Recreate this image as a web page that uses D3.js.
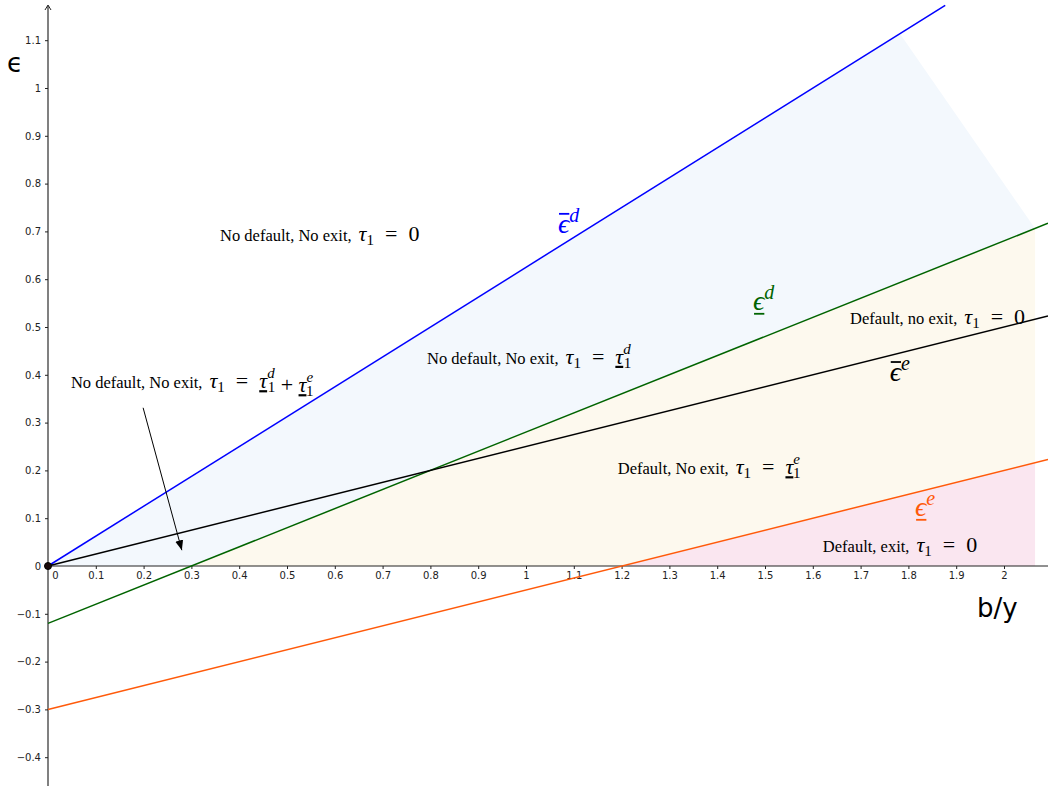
<!DOCTYPE html>
<html lang="en">
<head>
    <meta charset="UTF-8">
    <title>Default / exit regions</title>
    <style>
        body { margin: 0; background: #fff; }
        .tick text { font-family: "DejaVu Sans", sans-serif; font-size: 10px; fill: #222; }
    </style>
</head>
<body>
    <div id="chart"></div>

    <script src="https://d3js.org/d3.v7.min.js"></script>
    <script>
        var W = 1048, H = 786;

        // Tick values.
        var xTicks = [0, 0.1, 0.2, 0.3, 0.4, 0.5, 0.6, 0.7, 0.8, 0.9, 1, 1.1, 1.2, 1.3, 1.4, 1.5, 1.6, 1.7, 1.8, 1.9, 2];
        var yTicks = [-0.4, -0.3, -0.2, -0.1, 0, 0.1, 0.2, 0.3, 0.4, 0.5, 0.6, 0.7, 0.8, 0.9, 1, 1.1];

        // Threshold lines, start and end points (b/y, epsilon).
        var lineNames = ["epsBarD", "epsUnderD", "epsBarE", "epsUnderE"];
        var lineColors = ["#0000ff", "#006400", "#000000", "#ff5a0a"];
        var lineStart = [[0, 0], [0, -0.12], [0, 0], [0, -0.3]];
        var lineEnd = [[1.877, 1.173], [2.092, 0.717], [2.092, 0.523], [2.092, 0.223]];

        // Shaded regions.
        var regionFill = ["#f3f8fd", "#fdf9ee", "#fae6f0"];
        var regionPts = [
            [[0, 0], [1.782, 1.114], [2.065, 0.706], [0.3, 0]],
            [[0.3, 0], [2.065, 0.706], [2.065, 0.216], [1.2, 0]],
            [[1.2, 0], [2.065, 0.216], [2.065, 0]]
        ];

        var x = d3.scaleLinear().domain([0, 1]).range([48, 526]);
        var y = d3.scaleLinear().domain([0, 1]).range([566, 88]);

        var serif = "'Liberation Serif', 'Times New Roman', serif";

        var svg = d3.select("#chart").append("svg")
            .attr("width", W)
            .attr("height", H);

        svg.append("defs").append("marker")
            .attr("id", "head")
            .attr("viewBox", "0 0 10 10")
            .attr("refX", 10).attr("refY", 5)
            .attr("markerWidth", 10).attr("markerHeight", 10)
            .attr("markerUnits", "userSpaceOnUse")
            .attr("orient", "auto")
            .append("path")
            .attr("d", "M0,1 L10,5 L0,9 Z")
            .attr("fill", "#000");

        // Regions first so the lines sit on top.
        svg.append("g").selectAll("path")
            .data(regionPts)
            .enter().append("path")
            .attr("d", function(d) { return d3.line().x(function(p) { return x(p[0]); }).y(function(p) { return y(p[1]); })(d) + "Z"; })
            .attr("fill", function(d, i) { return regionFill[i]; });

        // x axis
        var xAxis = d3.axisBottom(x)
            .tickValues(xTicks)
            .tickSizeInner(3)
            .tickSizeOuter(0)
            .tickPadding(3)
            .tickFormat(function(d) { return d3.format("")(d); });

        var xg = svg.append("g")
            .attr("transform", "translate(0," + y(0) + ")")
            .call(xAxis);
        xg.select(".domain").attr("d", "M" + x(0) + ",0H" + W).attr("stroke", "#222");
        xg.selectAll(".tick line").attr("stroke", "#222");
        xg.selectAll(".tick text").filter(function(d) { return d === 0; }).attr("dx", 7);

        // y axis
        var yAxis = d3.axisLeft(y)
            .tickValues(yTicks)
            .tickSizeInner(3)
            .tickSizeOuter(0)
            .tickPadding(4)
            .tickFormat(function(d) { return d3.format("")(d).replace("-", "\u2212"); });

        var yg = svg.append("g")
            .attr("transform", "translate(" + x(0) + ",0)")
            .call(yAxis);
        yg.select(".domain").attr("d", "M0," + H + "V6").attr("stroke", "#808080").attr("stroke-width", 2);
        yg.selectAll(".tick line").attr("stroke", "#222");
        yg.append("path")
            .attr("d", "M-3,10 L0,5 L3,10")
            .attr("fill", "none")
            .attr("stroke", "#222")
            .attr("stroke-width", 1);

        // Lines
        svg.append("g").selectAll("line")
            .data(lineNames)
            .enter().append("line")
            .attr("x1", function(d, i) { return x(lineStart[i][0]); })
            .attr("y1", function(d, i) { return y(lineStart[i][1]); })
            .attr("x2", function(d, i) { return x(lineEnd[i][0]); })
            .attr("y2", function(d, i) { return y(lineEnd[i][1]); })
            .attr("stroke", function(d, i) { return lineColors[i]; })
            .attr("stroke-width", 1.5);

        // origin point
        svg.append("circle")
            .attr("cx", x(0)).attr("cy", y(0)).attr("r", 3.5)
            .attr("fill", "#1a0a0a").attr("stroke", "#000");

        // axis titles
        svg.append("text")
            .attr("x", 977).attr("y", 617)
            .attr("font-family", "'DejaVu Sans', sans-serif")
            .attr("font-size", 26)
            .attr("fill", "#000")
            .text("b/y");
        svg.append("text")
            .attr("x", 7).attr("y", 72)
            .attr("font-family", "'DejaVu Sans', sans-serif")
            .attr("font-size", 26)
            .attr("fill", "#000")
            .text("\u03f5");

        // Label helper: pieces are appended as tspans.
        function label(pos, size, color, pieces) {
            var t = svg.append("text")
                .attr("x", x(pos[0]))
                .attr("y", y(pos[1]))
                .attr("font-family", serif)
                .attr("font-size", size)
                .attr("fill", color);
            pieces.forEach(function(p) {
                var s = t.append("tspan").text(p.t);
                if (p.it) s.attr("font-style", "italic");
                if (p.fs) s.attr("font-size", p.fs);
                if (p.dx) s.attr("dx", p.dx);
                if (p.dy) s.attr("dy", p.dy);
                if (p.dec) s.attr("text-decoration", p.dec);
            });
            return t;
        }

        // tau_1 = ...
        var tau1 = [
            { t: "\u03c4", it: true, fs: 22, dx: 7 },
            { t: "1", fs: 15, dy: 4 },
            { t: "\u2002=\u2002", fs: 22, dy: -4 }
        ];
        function tauUnder(sup) {
            return [
                { t: "\u03c4", it: true, fs: 22, dec: "underline" },
                { t: sup, it: true, fs: 15, dy: -10 },
                { t: "1", fs: 15, dx: -7, dy: 14 },
                { t: "", fs: 15, dy: -4 }
            ];
        }

        var fsText = 16.5;
        label([0.36, 0.68], fsText, "#000", [{ t: "No default, No exit," }].concat(tau1, [{ t: "0", fs: 22 }]));
        label([0.793, 0.423], fsText, "#000", [{ t: "No default, No exit," }].concat(tau1, tauUnder("d")));
        label([0.048, 0.372], fsText, "#000", [{ t: "No default, No exit," }].concat(tau1, tauUnder("d"),
            [{ t: " + ", fs: 22 }], tauUnder("e")));
        label([1.678, 0.506], fsText, "#000", [{ t: "Default, no exit," }].concat(tau1, [{ t: "0", fs: 22 }]));
        label([1.192, 0.192], fsText, "#000", [{ t: "Default, No exit," }].concat(tau1, tauUnder("e")));
        label([1.621, 0.029], fsText, "#000", [{ t: "Default, exit," }].concat(tau1, [{ t: "0", fs: 22 }]));

        // Line names: epsilon with a bar over (upper threshold) or under (lower threshold).
        var nameSup = ["d", "d", "e", "e"];
        var nameBar = ["over", "under", "over", "under"];
        var namePos = [[1.067, 0.697], [1.475, 0.536], [1.761, 0.387], [1.814, 0.105]];
        lineNames.forEach(function(n, i) {
            var t = label(namePos[i], 28, lineColors[i], [
                { t: "\u03f5", it: true },
                { t: nameSup[i], it: true, fs: 20, dy: -11 }
            ]);
            var ext = t.node().getExtentOfChar(0);
            var by = y(namePos[i][1]) + (nameBar[i] === "over" ? -19 : 4);
            svg.append("line")
                .attr("x1", ext.x + 1).attr("x2", ext.x + ext.width)
                .attr("y1", by).attr("y2", by)
                .attr("stroke", lineColors[i])
                .attr("stroke-width", 1.8);
        });

        // Arrow pointing at the small region near the origin
        svg.append("line")
            .attr("x1", x(0.199)).attr("y1", y(0.331))
            .attr("x2", x(0.28)).attr("y2", y(0.033))
            .attr("stroke", "#000")
            .attr("stroke-width", 1)
            .attr("marker-end", "url(#head)");
    </script>
</body>
</html>
